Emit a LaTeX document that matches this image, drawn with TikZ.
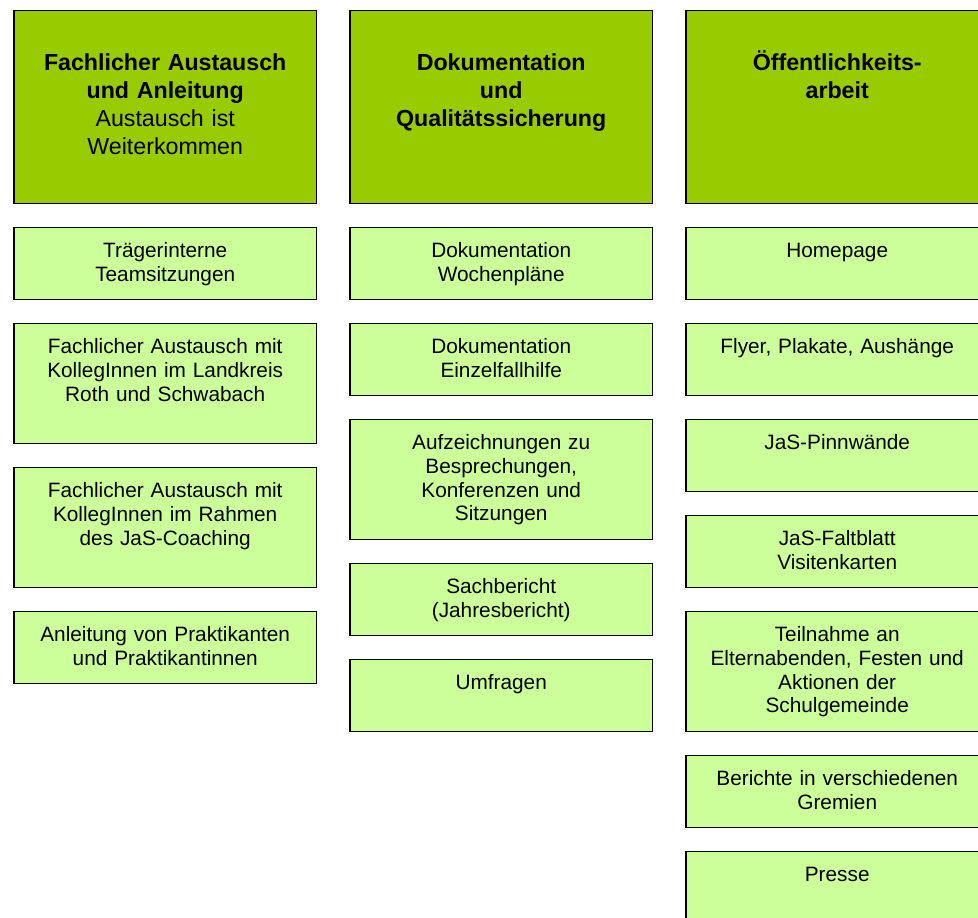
\documentclass[tikz,border=0pt]{standalone}
\usepackage{fontspec}
\setmainfont{Liberation Sans}
\usepackage{tikz}
\usetikzlibrary{positioning}

\definecolor{headgreen}{RGB}{153,204,0}
\definecolor{itemgreen}{RGB}{204,255,153}

\tikzset{
  box/.style={draw=black, line width=0.8pt, outer sep=0pt, text width=143.2pt, inner xsep=4pt, inner ysep=0pt, align=center},
  head/.style={box, fill=headgreen, text height=30.2pt, text depth=66.3pt, font=\fontsize{11.6}{14}\selectfont},
  item/.style={box, fill=itemgreen, text height=15.25pt, text depth=20.75pt, font=\fontsize{10.4}{11.8}\selectfont},
  tall/.style={text depth=44.75pt},
  node distance=12pt
}

\begin{document}
\begin{tikzpicture}
\path[use as bounding box, clip] (0,0) rectangle (489pt,-458.5pt);

% column heads
\node[head, anchor=north west] (hF) at (7pt,-5.2pt) {\textbf{Fachlicher Austausch}\\\textbf{und Anleitung}\\Austausch ist\\Weiterkommen};
\node[head, anchor=north west] (hD) at (175pt,-5.2pt) {\textbf{Dokumentation}\\\textbf{und}\\\textbf{Qualitätssicherung}};
\node[head, anchor=north west] (hO) at (343pt,-5.2pt) {\textbf{Öffentlichkeits-}\\\textbf{arbeit}};

% Fachlicher Austausch
\node[item, below=of hF] (f1) {Trägerinterne\\Teamsitzungen};
\node[item, tall, below=of f1] (f2) {Fachlicher Austausch mit\\KollegInnen im Landkreis\\Roth und Schwabach};
\node[item, tall, below=of f2] (f3) {Fachlicher Austausch mit\\KollegInnen im Rahmen\\des JaS-Coaching};
\node[item, below=of f3] (f4) {Anleitung von Praktikanten\\und Praktikantinnen};

% Dokumentation
\node[item, below=of hD] (d1) {Dokumentation\\Wochenpläne};
\node[item, below=of d1] (d2) {Dokumentation\\Einzelfallhilfe};
\node[item, tall, below=of d2] (d3) {Aufzeichnungen zu\\Besprechungen,\\Konferenzen und\\Sitzungen};
\node[item, below=of d3] (d4) {Sachbericht\\(Jahresbericht)};
\node[item, below=of d4] (d5) {Umfragen};

% Oeffentlichkeitsarbeit
\node[item, below=of hO] (o1) {Homepage};
\node[item, below=of o1] (o2) {Flyer, Plakate, Aushänge};
\node[item, below=of o2] (o3) {JaS-Pinnwände};
\node[item, below=of o3] (o4) {JaS-Faltblatt\\Visitenkarten};
\node[item, tall, below=of o4] (o5) {Teilnahme an\\Elternabenden, Festen und\\Aktionen der\\Schulgemeinde};
\node[item, below=of o5] (o6) {Berichte in verschiedenen\\Gremien};
\node[item, below=of o6] (o7) {Presse};
\end{tikzpicture}
\end{document}
